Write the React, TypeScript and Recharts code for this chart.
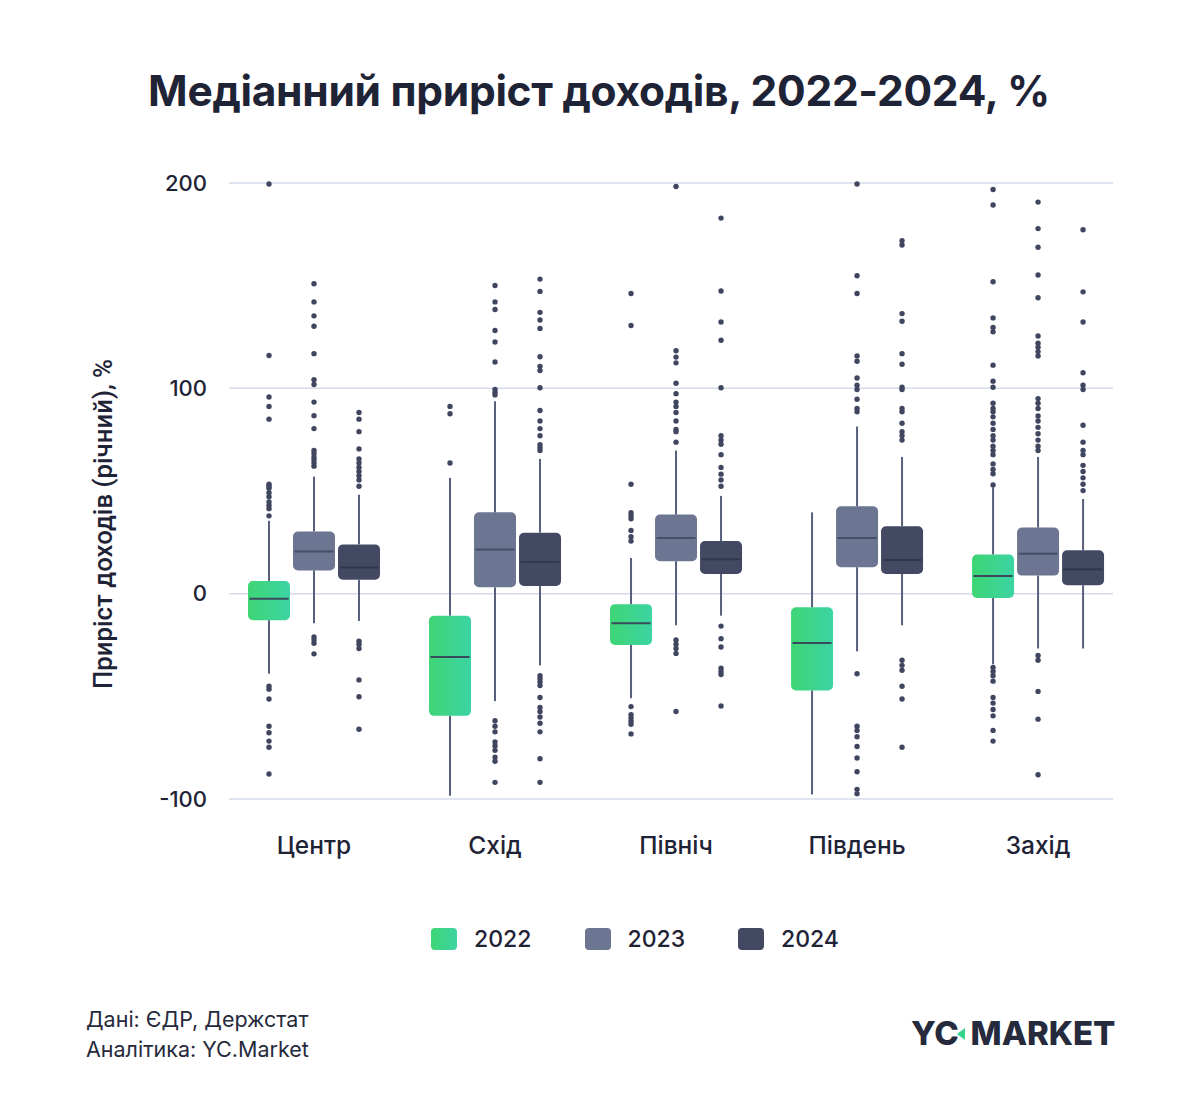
import {
  ComposedChart,
  CartesianGrid,
  ReferenceArea,
  ReferenceLine,
  Scatter,
  XAxis,
  YAxis,
} from "recharts";

const regions = ["Центр", "Схід", "Північ", "Південь", "Захід"];
const years = ["2022", "2023", "2024"];
const yTicks = [-100, 0, 100, 200];

// [lower whisker, Q1, median, Q3, upper whisker] per region
const box2022 = [
  [-39, -12.9, -2.5, 6.2, 35.5],
  [-98.4, -59.5, -30.8, -10.7, 56.4],
  [-50.9, -25, -14.4, -5.1, 17.4],
  [-97.8, -47.2, -24, -6.6, 39.6],
  [-34.4, -2.1, 8.6, 19.1, 51.7],
];
const box2023 = [
  [-14.4, 11.3, 20.5, 30.3, 57],
  [-52.3, 3.1, 21.5, 39.6, 93.7],
  [-15.4, 15.8, 27.1, 38.5, 69.7],
  [-28.1, 12.9, 27.1, 42.6, 81.4],
  [-26.7, 8.8, 19.5, 32.2, 66.6],
];
const box2024 = [
  [-13.3, 6.8, 12.7, 24, 48.2],
  [-34.9, 3.7, 15.4, 29.7, 65.6],
  [-10.7, 9.6, 16.8, 25.6, 47.6],
  [-15.4, 9.6, 16.4, 32.8, 66.6],
  [-26.7, 4.1, 11.9, 21.1, 46.1],
];

// outliers beyond the whiskers, per region
const outliers2022 = [
  [53.3, 52.3, 51.3, 49.2, 47.2, 44.7, 43, 41.4, 37.9, 85, 91.2, 95.8, 116, 199.5,
    -45.1, -46.5, -51.3, -64.6, -67.7, -71.8, -74.8, -87.8],
  [63.6, 87.6, 91.2],
  [25.6, 27.7, 30.8, 36.5, 37.9, 39.4, 53.3, 130.6, 146.2,
    -55, -59, -60.5, -62.1, -63.6, -68.3],
  [],
  [52.9, 58.4, 60.5, 63.2, 67.7, 69.7, 71.8, 74.8, 76.9, 80, 83, 86.1, 88.6, 90.2, 92.7,
    100.5, 103.5, 111.3, 127.5, 129.6, 134.3, 151.9, 189.3, 196.8,
    -35.9, -37.9, -40, -42.6, -50.6, -53.3, -56.4, -59.5, -66.6, -71.8],
];
const outliers2023 = [
  [62.1, 63.6, 65.2, 66.6, 68.3, 69.7, 80.4, 86.7, 93.3, 101.9, 104.2, 116.9, 130.2,
    135.3, 142.1, 150.9, -21.1, -22.6, -24.2, -29.3],
  [99.4, 98, 96.8, 112.8, 122.6, 128.2, 138.4, 142.1, 150.1,
    -61.9, -64.6, -67.3, -72.2, -74.2, -76.3, -79.6, -81.6, -91.9],
  [73.8, 78.9, 80, 84.1, 88.2, 91.2, 93.3, 97.4, 102.5, 112.4, 115.2, 118.3, 198.3,
    -22.6, -24.6, -26.7, -29.1, -57.4],
  [88.6, 90.2, 94.7, 99.4, 101.5, 105, 113.2, 115.8, 146.2, 154.8, 199.5,
    -39, -64.6, -66.6, -69.7, -74.4, -80, -86.7, -95.3, -97.4],
  [69.7, 71.8, 74.8, 77.9, 81, 84.1, 86.5, 90.2, 92.7, 95, 115.8, 117.9, 120, 122, 125.5,
    144.1, 155.2, 168.7, 177.8, 190.7, -30.1, -32.4, -47.6, -61.1, -88.2],
];
const outliers2024 = [
  [52.3, 55.4, 57.4, 59.5, 61.5, 63.6, 65.6, 70.5, 78.9, 85, 88.2,
    -23.2, -24.6, -26.7, -42, -50.2, -66],
  [69.7, 71.2, 72.6, 76.9, 80.4, 84.1, 89.2, 100.3, 108.7, 110.7, 115.4, 129.2, 133.3,
    137, 147.2, 153.2, -40, -41.4, -43, -44.7, -50.6, -55.4, -57.4, -60.1, -63.1,
    -67.3, -80.4, -91.9],
  [52.3, 55.4, 58.2, 61.5, 67.7, 72.8, 74.8, 76.9, 100.3, 123.4, 132.3, 147.4, 182.9,
    -15.8, -21.9, -26, -36.3, -37.9, -39.4, -54.7],
  [74.8, 76.9, 78.9, 83, 88.6, 90.2, 99.4, 100.5, 111.7, 116.9, 132.7, 136.4, 169.8,
    171.9, -32.4, -34.9, -37.3, -45.1, -51.3, -74.8],
  [50.2, 53.3, 56.4, 59.5, 62.5, 67.7, 69.7, 73.8, 82, 99.4, 101.5, 107.6, 132.3, 147,
    177.2],
];

const INK = "#1f2336";
const WHISKER = "#585f7b";
const DOT = "#40465f";
const GREEN = "linear-gradient(90deg, #3ed575 0%, #3cd4a3 100%)";

// group offset and half box width, in x-axis units (one unit per region)
const GROUP_STEP = 0.2486;
const HALF_BOX = 0.116;

const series = [
  { year: years[0], boxes: box2022, outliers: outliers2022, fill: "url(#box2022)", median: "#3a4a5c", swatch: GREEN },
  { year: years[1], boxes: box2023, outliers: outliers2023, fill: "#6c7591", median: "#464d68", swatch: "#6c7591" },
  { year: years[2], boxes: box2024, outliers: outliers2024, fill: "#434863", median: "#32374d", swatch: "#434863" },
];

const roundedBox = (fill: string) => (props: any) => (
  <rect
    x={props.x}
    y={props.y}
    width={props.width}
    height={props.height}
    rx={5}
    ry={5}
    fill={fill}
  />
);

const dot = (props: any) => <circle cx={props.cx} cy={props.cy} r={2.7} fill={DOT} />;

const App = () => {
  const xDomain = [-0.4696, 4.414];

  return (
    <div
      style={{
        position: "absolute",
        left: 0,
        top: 0,
        width: 1200,
        height: 1103,
        background: "#ffffff",
        fontFamily: "Inter, 'Noto Sans', sans-serif",
        color: INK,
        overflow: "hidden",
      }}
    >
      <svg width={0} height={0} style={{ position: "absolute" }}>
        <defs>
          <linearGradient id="box2022" x1="0" y1="0" x2="1" y2="0">
            <stop offset="0%" stopColor="#3ed575" />
            <stop offset="100%" stopColor="#3cd4a3" />
          </linearGradient>
        </defs>
      </svg>

      <div
        style={{
          position: "absolute",
          top: 65,
          left: 0,
          width: 1198,
          textAlign: "center",
          fontSize: 42.5,
          fontWeight: 700,
          letterSpacing: -0.3,
        }}
      >
        Медіанний приріст доходів, 2022-2024, %
      </div>

      <div
        style={{
          position: "absolute",
          left: 103,
          top: 524,
          transform: "translate(-50%, -50%) rotate(-90deg)",
          whiteSpace: "nowrap",
          fontFamily: "Roboto, sans-serif",
          fontSize: 25.8,
          fontWeight: 500,
        }}
      >
        Приріст доходів (річний), %
      </div>

      <ComposedChart
        width={1200}
        height={1103}
        margin={{ top: 183, right: 87, bottom: 244, left: 169 }}
        style={{ position: "absolute", left: 0, top: 0 }}
      >
        <CartesianGrid vertical={false} stroke="#d6dcea" strokeWidth={1.5} />
        <XAxis
          type="number"
          dataKey="x"
          domain={xDomain}
          allowDataOverflow
          ticks={[0, 1, 2, 3, 4]}
          tickFormatter={(i: number) => regions[i]}
          axisLine={false}
          tickLine={false}
          tickSize={0}
          tickMargin={38}
          height={60}
          tick={{ fill: INK, fontSize: 24.5, fontWeight: 500, fontFamily: "Inter" }}
        />
        <YAxis
          type="number"
          dataKey="y"
          domain={[-100, 200]}
          ticks={yTicks}
          axisLine={false}
          tickLine={false}
          tickSize={0}
          tickMargin={22}
          width={60}
          tick={{ fill: INK, fontSize: 22, fontWeight: 500, fontFamily: "Inter" }}
        />

        {series.map((s, j) =>
          s.boxes.map(([lo, q1, med, q3, hi], i) => {
            const cx = i + (j - 1) * GROUP_STEP;
            return [
              <ReferenceLine
                key={`wh-${s.year}-${i}`}
                segment={[{ x: cx, y: q3 }, { x: cx, y: hi }]}
                stroke={WHISKER}
                strokeWidth={2}
              />,
              <ReferenceLine
                key={`wl-${s.year}-${i}`}
                segment={[{ x: cx, y: lo }, { x: cx, y: q1 }]}
                stroke={WHISKER}
                strokeWidth={2}
              />,
              <ReferenceArea
                key={`box-${s.year}-${i}`}
                x1={cx - HALF_BOX}
                x2={cx + HALF_BOX}
                y1={q1}
                y2={q3}
                shape={roundedBox(s.fill)}
              />,
              <ReferenceLine
                key={`med-${s.year}-${i}`}
                segment={[{ x: cx - HALF_BOX + 0.008, y: med }, { x: cx + HALF_BOX - 0.008, y: med }]}
                stroke={s.median}
                strokeWidth={2}
              />,
            ];
          })
        )}

        {series.map((s, j) => (
          <Scatter
            key={`out-${s.year}`}
            name={s.year}
            data={s.outliers.flatMap((vals, i) =>
              vals.map((y) => ({ x: i + (j - 1) * GROUP_STEP, y }))
            )}
            shape={dot}
            isAnimationActive={false}
          />
        ))}
      </ComposedChart>

      <div
        style={{
          position: "absolute",
          top: 926,
          left: 0,
          width: 1200,
          height: 26,
        }}
      >
        {series.map((s, j) => (
          <div
            key={s.year}
            style={{
              position: "absolute",
              left: 431 + j * 153.5,
              top: 0,
              display: "flex",
              alignItems: "center",
              height: 26,
            }}
          >
            <span
              style={{
                display: "inline-block",
                width: 26,
                height: 22,
                borderRadius: 4,
                background: s.swatch,
              }}
            />
            <span style={{ marginLeft: 17, fontSize: 23, fontWeight: 500 }}>{s.year}</span>
          </div>
        ))}
      </div>

      <div
        style={{
          position: "absolute",
          left: 86,
          top: 1004,
          fontSize: 21.5,
          lineHeight: "30px",
          color: "#262a3c",
        }}
      >
        <div>Дані: ЄДР, Держстат</div>
        <div>Аналітика: YC.Market</div>
      </div>

      <div
        style={{
          position: "absolute",
          left: 911,
          top: 1013,
          fontSize: 33,
          fontWeight: 800,
          color: "#252a3d",
          whiteSpace: "nowrap",
          letterSpacing: -0.1,
        }}
      >
        <span>YC</span>
        <span style={{ marginLeft: 12 }}>MARKET</span>
        <svg
          width={8}
          height={12}
          style={{ position: "absolute", left: 46, top: 15 }}
        >
          <polygon points="8,0 0,6 8,12" fill="#35d48a" />
        </svg>
      </div>
    </div>
  );
};

export default App;
